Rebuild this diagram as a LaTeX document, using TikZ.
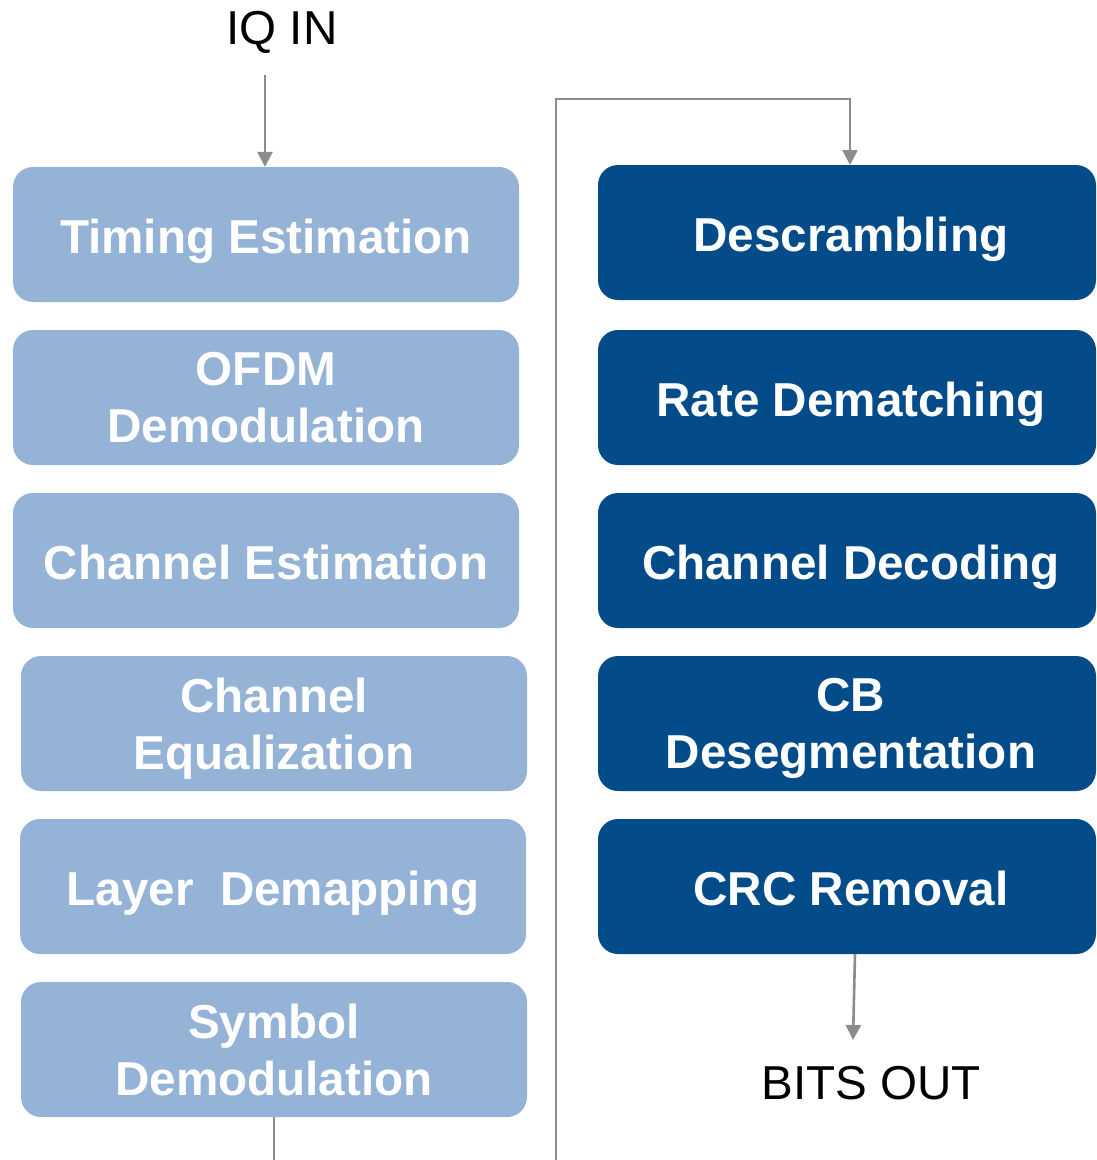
\documentclass[tikz,border=0pt]{standalone}
\usepackage{fontspec}
\setmainfont{Liberation Sans}
\usetikzlibrary{arrows.meta}
\definecolor{lightblk}{HTML}{95B3D7}
\definecolor{darkblk}{HTML}{044B89}
\definecolor{wire}{HTML}{8C8C8C}
\tikzset{
  blk/.style={rounded corners=20pt, minimum height=135pt, inner sep=0pt},
  rxblk/.style={blk, fill=lightblk, minimum width=506pt},
  decblk/.style={blk, fill=darkblk, minimum width=498pt},
  lbl/.style={align=center, text=white, inner sep=0pt,
    font=\fontsize{47.6}{57}\selectfont\bfseries},
  % block captions: one-line captions have no descender depth counted
  cap/.style={label={[lbl, yshift=-5pt]center:#1}},
  capflat/.style={label={[lbl, yshift=-0.5pt]center:#1}},
  capone/.style={label={[lbl, text depth=0pt, yshift=-1.5pt]center:#1}},
  dcap/.style={label={[lbl, xshift=4pt, yshift=-5pt]center:#1}},
  dcapone/.style={label={[lbl, text depth=0pt, xshift=4pt, yshift=-1.5pt]center:#1}},
  io/.style={font=\fontsize{47.6}{57}\selectfont, text=black, inner sep=0pt},
  wireline/.style={draw=wire, line width=2.6pt},
  flow/.style={wireline, -{Triangle[length=15pt,width=15pt]}}
}
\begin{document}
\begin{tikzpicture}[x=1pt,y=-1pt]
\useasboundingbox (0,0) rectangle (1096,1160);

% receiver front end
\node[rxblk, capone={Timing Estimation}]   (timing) at (266,234.5) {};
\node[rxblk, capflat={OFDM\\Demodulation}] (ofdm)   at (266,397.5) {};
\node[rxblk, capone={Channel Estimation}]  (chest)  at (266,560.5) {};
\node[rxblk, cap={Channel\\Equalization}]  (cheq)   at (274,723.5) {};
\node[rxblk, capone={Layer\ \ Demapping}]  (layer)  at (273,886.5) {};
\node[rxblk, capflat={Symbol\\Demodulation}] (symb) at (274,1049.5) {};

% decoding chain
\node[decblk, dcapone={Descrambling}]     (descr) at (847,232.5) {};
\node[decblk, dcapone={Rate Dematching}]  (rate)  at (847,397.5) {};
\node[decblk, dcapone={Channel Decoding}] (chdec) at (847,560.5) {};
\node[decblk, dcap={CB\\Desegmentation}]  (cbd)   at (847,723.5) {};
\node[decblk, dcapone={CRC Removal}]      (crc)   at (847,886.5) {};

% inputs and outputs
\node[io] (iqin)    at (282,32)   {IQ IN};
\node[io] (bitsout) at (871,1083) {BITS OUT};

\coordinate (inStart) at (265,75);
\draw[flow] (inStart) -- (inStart |- timing.north);

% link from the front end to the decoder
\coordinate (symbOut) at (274,1160);
\draw[wireline] (symb.south -| symbOut) -- (symbOut);
\coordinate (riseBot) at (556,1160);
\coordinate (riseTop) at (556,99);
\coordinate (descrIn) at (850,165);
\draw[flow] (riseBot) -- (riseTop) -| (descrIn);

% output arrow
\coordinate (crcOut) at (855,954);
\coordinate (outEnd) at (853,1040);
\draw[flow] (crcOut) -- (outEnd);
\end{tikzpicture}
\end{document}
